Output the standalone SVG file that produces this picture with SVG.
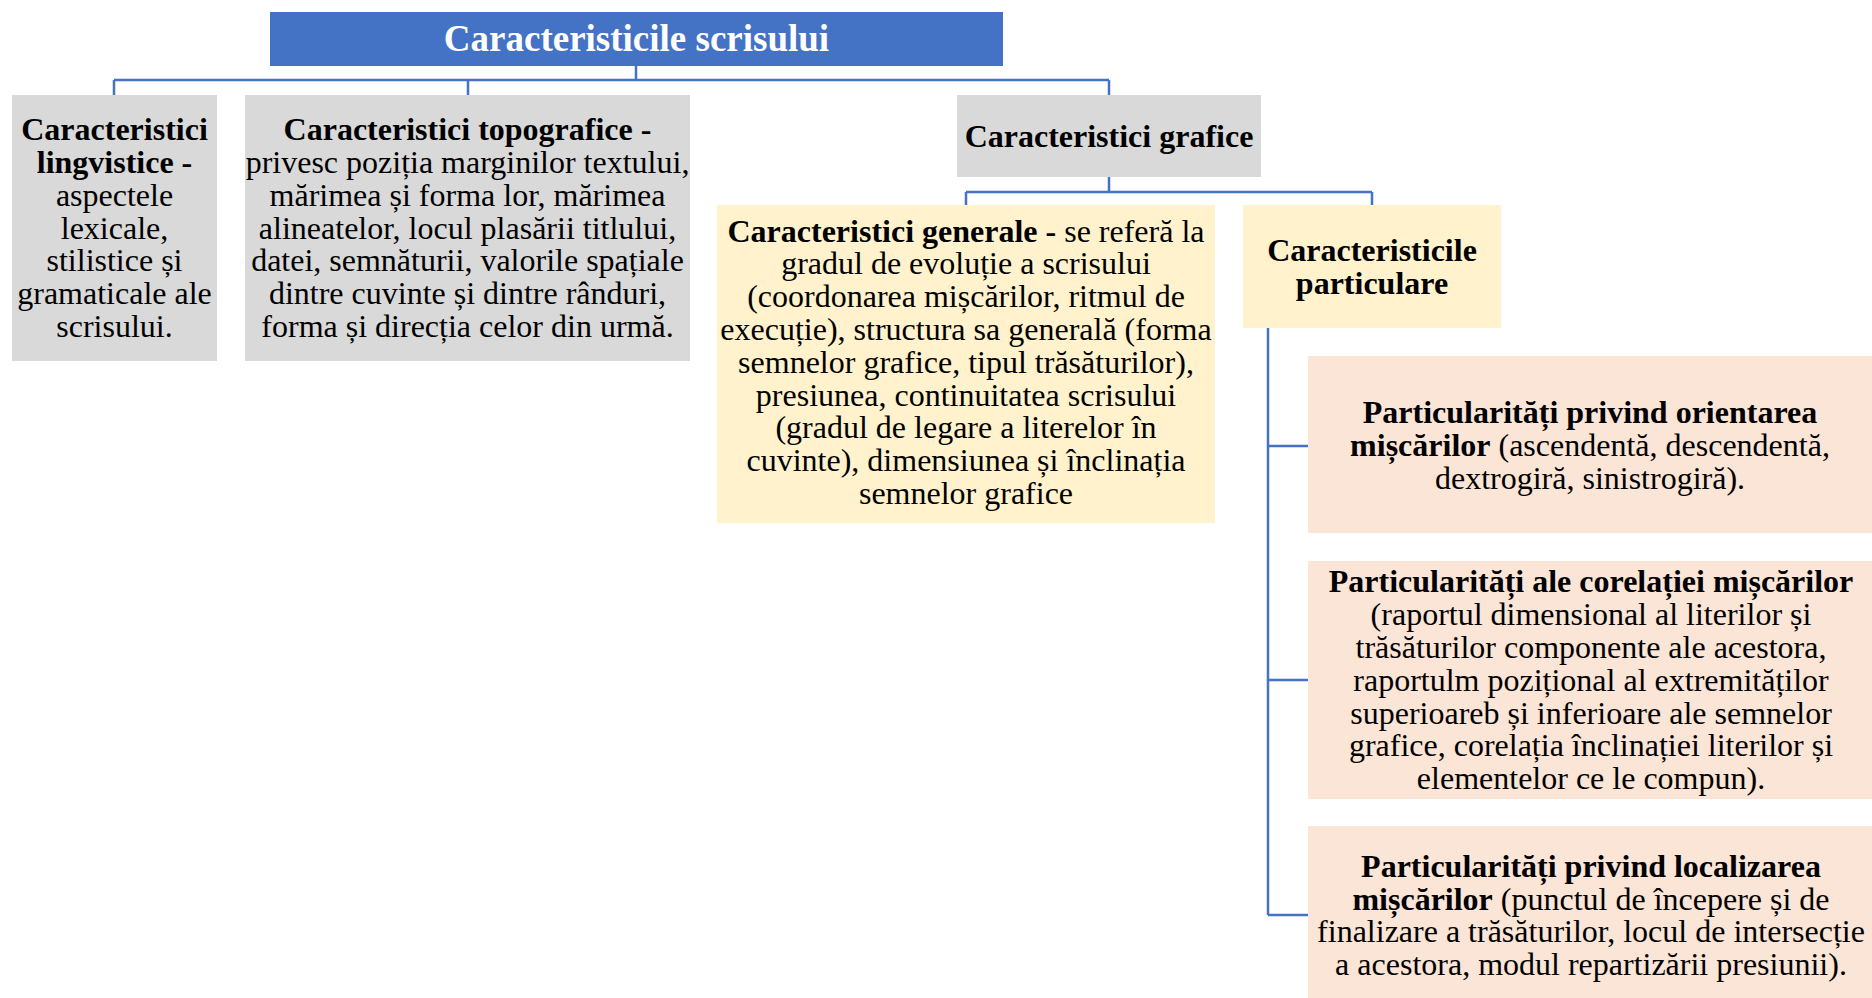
<svg xmlns="http://www.w3.org/2000/svg" width="1872" height="998" viewBox="0 0 1872 998">
<style>
text{font-family:"Liberation Serif","Times New Roman",serif;font-size:32px;fill:#000;text-anchor:middle}
.b{font-weight:bold}
.title{font-size:37px;font-weight:bold;fill:#fff}
.gray{fill:#D9D9D9}
.yel{fill:#FFF2CC}
.peach{fill:#FBE5D6}
.conn{fill:none;stroke:#4472C4;stroke-width:2.5}
</style>
<rect width="1872" height="998" fill="#fff"/>
<g id="connectors" class="conn">
<path d="M636 66V80M114 80H1109M114 80V95M468 80V95M1109 80V95"/>
<path d="M1109 177V192M966 192H1372M966 192V205M1372 192V205"/>
<path d="M1268 328V915M1268 446H1308M1268 680H1308M1268 915H1308"/>
</g>
<g id="root">
<rect x="270" y="12" width="733" height="54" fill="#4472C4"/>
<text class="title" x="636.5" y="51">Caracteristicile scrisului</text>
</g>
<g id="lingvistice">
<rect class="gray" x="12" y="95" width="205" height="266"/>
<text x="114.5" y="140" class="b">Caracteristici</text>
<text x="114.5" y="173" class="b">lingvistice -</text>
<text x="114.5" y="206">aspectele</text>
<text x="114.5" y="238.5">lexicale,</text>
<text x="114.5" y="271">stilistice și</text>
<text x="114.5" y="304">gramaticale ale</text>
<text x="114.5" y="337">scrisului.</text>
</g>
<g id="topografice">
<rect class="gray" x="245" y="95" width="445" height="266"/>
<text x="467.5" y="140" class="b">Caracteristici topografice -</text>
<text x="467.5" y="173">privesc poziția marginilor textului,</text>
<text x="467.5" y="206">mărimea și forma lor, mărimea</text>
<text x="467.5" y="238.5">alineatelor, locul plasării titlului,</text>
<text x="467.5" y="271">datei, semnăturii, valorile spațiale</text>
<text x="467.5" y="304">dintre cuvinte și dintre rânduri,</text>
<text x="467.5" y="337">forma și direcția celor din urmă.</text>
</g>
<g id="grafice">
<rect class="gray" x="957" y="95" width="304" height="82"/>
<text x="1109" y="146.5" class="b">Caracteristici grafice</text>
</g>
<g id="generale">
<rect class="yel" x="717" y="205" width="498" height="318"/>
<text x="966" y="241.5"><tspan class="b">Caracteristici generale -</tspan> se referă la</text>
<text x="966" y="274.3">gradul de evoluție a scrisului</text>
<text x="966" y="307.1">(coordonarea mișcărilor, ritmul de</text>
<text x="966" y="339.9">execuție), structura sa generală (forma</text>
<text x="966" y="372.7">semnelor grafice, tipul trăsăturilor),</text>
<text x="966" y="405.5">presiunea, continuitatea scrisului</text>
<text x="966" y="438.3">(gradul de legare a literelor în</text>
<text x="966" y="471.1">cuvinte), dimensiunea și înclinația</text>
<text x="966" y="503.9">semnelor grafice</text>
</g>
<g id="particulare">
<rect class="yel" x="1243" y="205" width="258" height="123"/>
<text x="1372" y="261" class="b">Caracteristicile</text>
<text x="1372" y="294" class="b">particulare</text>
</g>
<g id="orientarea">
<rect class="peach" x="1308" y="356" width="564" height="177"/>
<text x="1590" y="423" class="b">Particularități privind orientarea</text>
<text x="1590" y="456"><tspan class="b">mișcărilor</tspan> (ascendentă, descendentă,</text>
<text x="1590" y="488.5">dextrogiră, sinistrogiră).</text>
</g>
<g id="corelatia">
<rect class="peach" x="1308" y="561" width="564" height="238"/>
<text x="1591" y="592" class="b">Particularități ale corelației mișcărilor</text>
<text x="1591" y="625">(raportul dimensional al literilor și</text>
<text x="1591" y="657.5">trăsăturilor componente ale acestora,</text>
<text x="1591" y="690.5">raportulm pozițional al extremităților</text>
<text x="1591" y="723.5">superioareb și inferioare ale semnelor</text>
<text x="1591" y="756">grafice, corelația înclinației literilor și</text>
<text x="1591" y="789">elementelor ce le compun).</text>
</g>
<g id="localizarea">
<rect class="peach" x="1308" y="826" width="564" height="178"/>
<text x="1591" y="876.5" class="b">Particularități privind localizarea</text>
<text x="1591" y="909.5"><tspan class="b">mișcărilor</tspan> (punctul de începere și de</text>
<text x="1591" y="942">finalizare a trăsăturilor, locul de intersecție</text>
<text x="1591" y="975">a acestora, modul repartizării presiunii).</text>
</g>
</svg>
